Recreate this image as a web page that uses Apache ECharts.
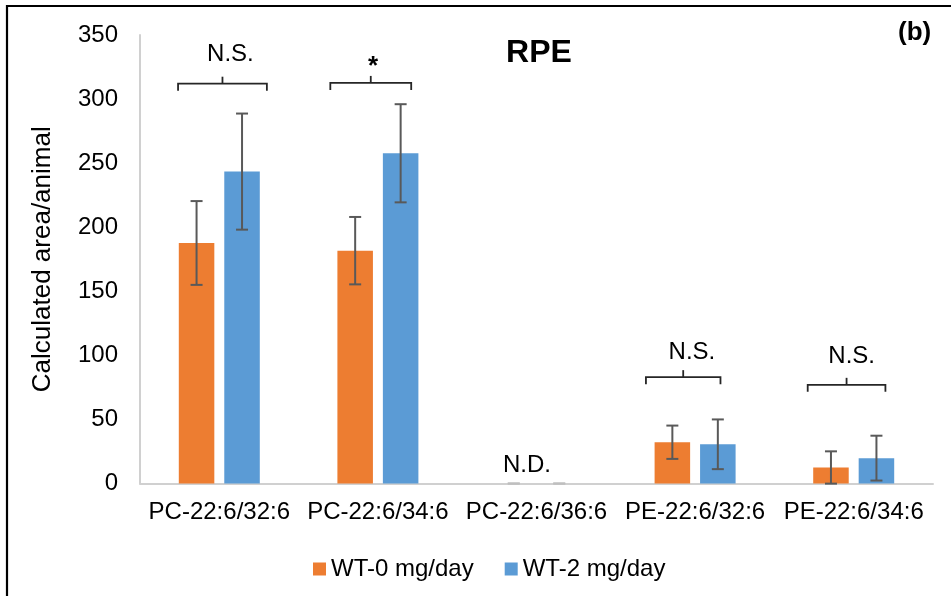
<!DOCTYPE html>
<html>
<head>
<meta charset="utf-8">
<script src="https://cdn.jsdelivr.net/npm/echarts@6/dist/echarts.min.js"></script>
<style>html,body{margin:0;padding:0;background:#fff;}#c{width:951px;height:596px;}</style>
</head>
<body>
<div id="c"></div>
<script>
const categories = ['PC-22:6/32:6','PC-22:6/34:6','PC-22:6/36:6','PE-22:6/32:6','PE-22:6/34:6'];
const seriesNames = ['WT-0 mg/day','WT-2 mg/day'];
const wt0 = [187.7, 181.7, 0, 32.2, 12.5];
const wt0Err = [32.7, 26.3, 0, 13, 12.6];
const wt2 = [243.4, 257.7, 0, 30.6, 19.8];
const wt2Err = [45.3, 38.3, 0, 19.4, 17.5];
const yTicks = [0, 50, 100, 150, 200, 250, 300, 350];
// significance brackets: category index, height (value), left/right span in category widths
const bracketCat = [0, 1, 3, 4];
const bracketY = [312, 312.6, 83, 77];
const bracketLeft = [-0.26, -0.30, -0.31, -0.29];
const bracketRight = [0.30, 0.21, 0.16, 0.20];
// annotation texts
const noteCat = [0, 1, 2, 3, 4];
const noteX = [0.07, -0.03, -0.06, -0.02, -0.013];
const noteY = [334.5, 325, 14, 102.7, 99];
const noteText = ['N.S.', '*', 'N.D.', 'N.S.', 'N.S.'];

const FONT = '"Liberation Sans", Arial, sans-serif';
const BAR_W = 0.224, BAR_GAP = 0.28;
const colors = ['#ED7D31', '#5B9BD5'];

function errSeries(vals, errs, sign) {
  return {
    type: 'custom',
    z: 5,
    silent: true,
    data: vals.map((v, i) => [i, v - errs[i], v + errs[i]]),
    renderItem: function (params, api) {
      const band = api.size([1, 0])[0];
      const w = band * BAR_W;
      const off = sign * (w * BAR_GAP / 2 + w / 2);
      const lo = api.coord([api.value(0), api.value(1)]);
      const hi = api.coord([api.value(0), api.value(2)]);
      const x = lo[0] + off;
      const cap = 6;
      const zero = api.value(2) - api.value(1) === 0;
      const st = { stroke: zero ? '#bfbfbf' : '#595959', lineWidth: 2 };
      return {
        type: 'group',
        children: [
          { type: 'line', shape: { x1: x, y1: lo[1], x2: x, y2: hi[1] }, style: st },
          { type: 'line', shape: { x1: x - cap, y1: lo[1], x2: x + cap, y2: lo[1] }, style: st },
          { type: 'line', shape: { x1: x - cap, y1: hi[1], x2: x + cap, y2: hi[1] }, style: st }
        ]
      };
    }
  };
}

const chart = echarts.init(document.getElementById('c'));
chart.setOption({
  animation: false,
  backgroundColor: '#fff',
  title: {
    text: 'RPE', left: 534, top: 32, textAlign: 'center',
    textStyle: { fontFamily: FONT, fontSize: 32, fontWeight: 'bold', color: '#000' }
  },
  legend: {
    data: seriesNames, left: 308, top: 552, itemWidth: 13, itemHeight: 13, itemGap: 31,
    icon: 'rect',
    textStyle: { fontFamily: FONT, fontSize: 24, color: '#000', padding: [0, 0, 0, 0] }
  },
  grid: { left: 140, right: 18, top: 35, bottom: 112.5, containLabel: false },
  xAxis: {
    type: 'category', data: categories,
    axisLine: { lineStyle: { color: '#d0d0d0', width: 2 } },
    axisTick: { show: false },
    axisLabel: { fontFamily: FONT, fontSize: 24, color: '#000', margin: 17, interval: 0 }
  },
  yAxis: {
    type: 'value', min: 0, max: 350, interval: 50,
    name: 'Calculated area/animal', nameLocation: 'middle', nameGap: 84,
    nameTextStyle: { fontFamily: FONT, fontSize: 26, color: '#000' },
    axisLine: { show: true, lineStyle: { color: '#d0d0d0', width: 2 } },
    axisTick: { show: false },
    splitLine: { show: false },
    axisLabel: {
      fontFamily: FONT, fontSize: 24, color: '#000', margin: 22,
      formatter: v => yTicks.includes(v) ? String(v) : ''
    }
  },
  series: [
    { name: seriesNames[0], type: 'bar', data: wt0, barWidth: (BAR_W * 100) + '%', barGap: (BAR_GAP * 100) + '%', itemStyle: { color: colors[0] } },
    { name: seriesNames[1], type: 'bar', data: wt2, barWidth: (BAR_W * 100) + '%', barGap: (BAR_GAP * 100) + '%', itemStyle: { color: colors[1] } },
    errSeries(wt0, wt0Err, -1),
    errSeries(wt2, wt2Err, 1),
    {
      type: 'custom', z: 6, silent: true,
      data: bracketCat.map((c, i) => [c, bracketY[i], bracketLeft[i], bracketRight[i]]),
      renderItem: function (params, api) {
        const band = api.size([1, 0])[0];
        const p = api.coord([api.value(0), api.value(1)]);
        const xl = p[0] + api.value(2) * band;
        const xr = p[0] + api.value(3) * band;
        const xm = (xl + xr) / 2;
        const y = p[1];
        const leg = 7, tip = 7;
        const st = { stroke: '#262626', lineWidth: 1.8, fill: null };
        return {
          type: 'group',
          children: [
            { type: 'polyline', shape: { points: [[xl, y + leg], [xl, y], [xr, y], [xr, y + leg]] }, style: st },
            { type: 'line', shape: { x1: xm, y1: y, x2: xm, y2: y - tip }, style: st }
          ]
        };
      }
    },
    {
      type: 'custom', z: 6, silent: true,
      data: noteCat.map((c, i) => [c, noteY[i], noteX[i], noteText[i]]),
      renderItem: function (params, api) {
        const band = api.size([1, 0])[0];
        const p = api.coord([api.value(0), api.value(1)]);
        const isStar = noteText[params.dataIndex] === '*';
        return {
          type: 'text',
          style: {
            x: p[0] + api.value(2) * band, y: p[1],
            text: noteText[params.dataIndex],
            align: 'center', verticalAlign: 'middle',
            font: (isStar ? 'bold 26px ' : '24px ') + FONT, fill: '#000'
          }
        };
      }
    }
  ],
  graphic: [
    { type: 'rect', shape: { x: 7, y: 6, width: 980, height: 620 }, style: { fill: null, stroke: '#000', lineWidth: 2.2 }, z: 100 },
    { type: 'text', left: 898, top: 20, style: { text: '(b)', font: 'bold 26px ' + FONT, fill: '#000' }, z: 100 }
  ]
});
</script>
</body>
</html>
